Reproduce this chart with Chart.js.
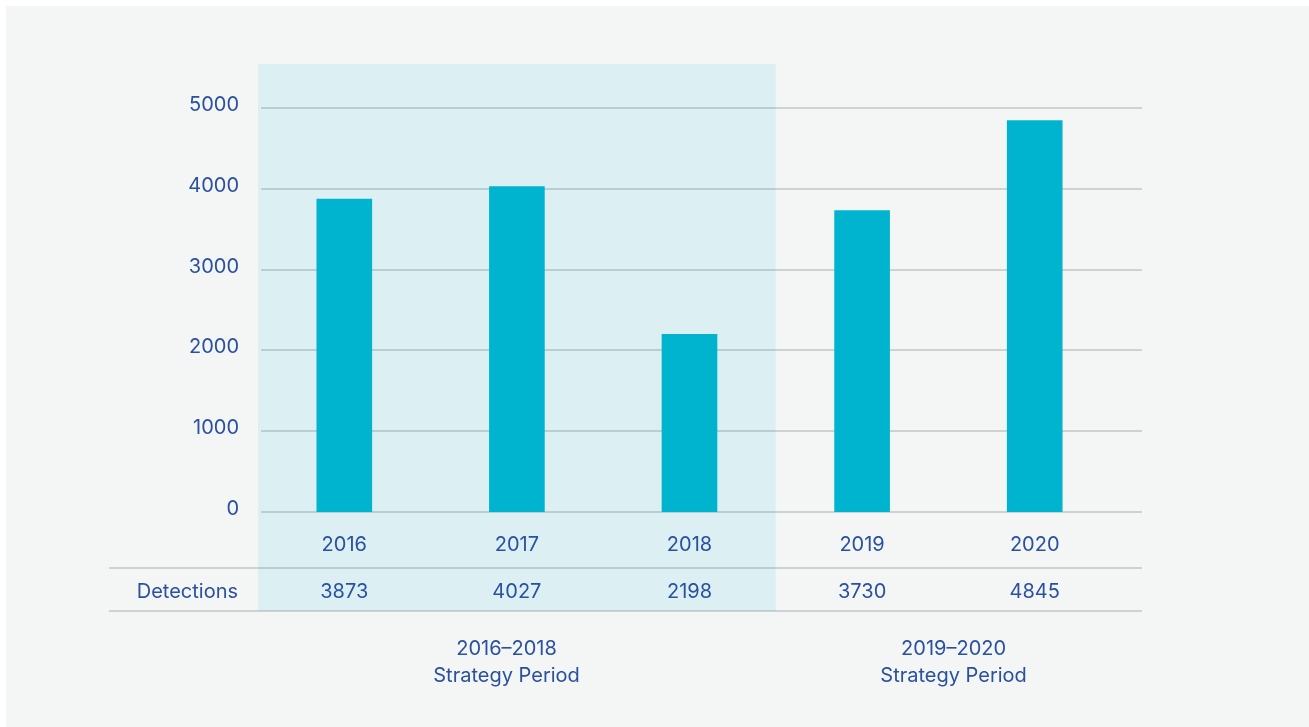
<!DOCTYPE html>
<html>
<head>
<meta charset="utf-8">
<script src="https://cdn.jsdelivr.net/npm/chart.js@4"></script>
<style>
  html, body { margin: 0; padding: 0; background: #ffffff; }
  #wrap { width: 1309px; height: 727px; }
</style>
</head>
<body>
<div id="wrap"><canvas id="detChart" width="1309" height="727"></canvas></div>
<script>
// Data
const years = ['2016', '2017', '2018', '2019', '2020'];
const detections = [3873, 4027, 2198, 3730, 4845];
const yTicks = [0, 1000, 2000, 3000, 4000, 5000];
const periods = [
    { from: 0, to: 2, lines: ['2016–2018', 'Strategy Period'] },
    { from: 3, to: 4, lines: ['2019–2020', 'Strategy Period'] }
];
const rowLabel = 'Detections';

const textColor = '#2a50a0';
const barColor = '#00b4d0';
const bandColor = '#dcf0f4';
const lineColor = 'rgba(70, 85, 90, 0.22)';
const fontFamily = 'Inter, "Noto Sans", sans-serif';

// Panel background, shaded strategy band, extended grid + table
const tablePlugin = {
    id: 'tablePlugin',
    beforeDraw(chart) {
        const ctx = chart.ctx;
        const x = chart.scales.x;
        const area = chart.chartArea;
        ctx.save();
        ctx.fillStyle = '#ffffff';
        ctx.fillRect(0, 0, chart.width, chart.height);
        ctx.fillStyle = '#f4f6f5';
        ctx.fillRect(6, 6, chart.width - 6, chart.height - 6);
        // 2016-2018 band
        const step = x.getPixelForValue(1) - x.getPixelForValue(0);
        const left = x.getPixelForValue(periods[0].from) - step / 2;
        const right = x.getPixelForValue(periods[0].to) + step / 2;
        ctx.fillStyle = bandColor;
        ctx.fillRect(left, area.top, right - left, area.bottom + 99 - area.top);
        ctx.restore();
    },
    beforeDatasetsDraw(chart) {
        const ctx = chart.ctx;
        const y = chart.scales.y;
        const area = chart.chartArea;
        ctx.save();
        ctx.strokeStyle = lineColor;
        ctx.lineWidth = 2;
        y.ticks.forEach(t => {
            const py = Math.round(y.getPixelForValue(t.value));
            ctx.beginPath();
            ctx.moveTo(area.left + 3, py);
            ctx.lineTo(area.right + 21, py);
            ctx.stroke();
        });
        ctx.restore();
    },
    afterDraw(chart) {
        const ctx = chart.ctx;
        const x = chart.scales.x;
        const area = chart.chartArea;
        const base = area.bottom;
        ctx.save();
        ctx.strokeStyle = lineColor;
        ctx.lineWidth = 2;
        [56, 99].forEach(off => {
            ctx.beginPath();
            ctx.moveTo(109, base + off);
            ctx.lineTo(area.right + 21, base + off);
            ctx.stroke();
        });
        ctx.fillStyle = textColor;
        ctx.font = '20px ' + fontFamily;
        ctx.textBaseline = 'middle';
        ctx.textAlign = 'right';
        ctx.fillText(rowLabel, 238, base + 80);
        ctx.textAlign = 'center';
        detections.forEach((v, i) => {
            ctx.fillText(String(v), x.getPixelForValue(i), base + 80);
        });
        // period captions
        const step = x.getPixelForValue(1) - x.getPixelForValue(0);
        const offsets = [0.94, 0.53];
        periods.forEach((p, k) => {
            const cx = x.getPixelForValue(p.from) + offsets[k] * step;
            p.lines.forEach((ln, j) => {
                ctx.fillText(ln, cx, base + 137 + j * 27);
            });
        });
        ctx.restore();
    }
};

const ctx = document.getElementById('detChart').getContext('2d');
const detChart = new Chart(ctx, {
    type: 'bar',
    data: {
        labels: years,
        datasets: [{
            label: rowLabel,
            data: detections,
            backgroundColor: barColor,
            borderWidth: 0,
            barThickness: 55
        }]
    },
    options: {
        responsive: false,
        animation: false,
        layout: {
            padding: { top: 64, right: 188, left: 0, bottom: 0 }
        },
        plugins: {
            legend: { display: false },
            tooltip: { enabled: false }
        },
        scales: {
            x: {
                grid: { display: false, drawTicks: false },
                border: { display: false },
                ticks: {
                    color: textColor,
                    font: { family: fontFamily, size: 20 },
                    padding: 21
                },
                afterFit(scale) { scale.height = 215; }
            },
            y: {
                min: 0,
                max: 5545,
                grid: { display: false, drawTicks: false },
                border: { display: false },
                ticks: {
                    color: textColor,
                    font: { family: fontFamily, size: 20 },
                    padding: 19,
                    labelOffset: -3,
                    callback: v => String(v)
                },
                afterBuildTicks(scale) {
                    scale.ticks = yTicks.map(v => ({ value: v }));
                },
                afterFit(scale) { scale.width = 258; }
            }
        }
    },
    plugins: [tablePlugin]
});
</script>
</body>
</html>
